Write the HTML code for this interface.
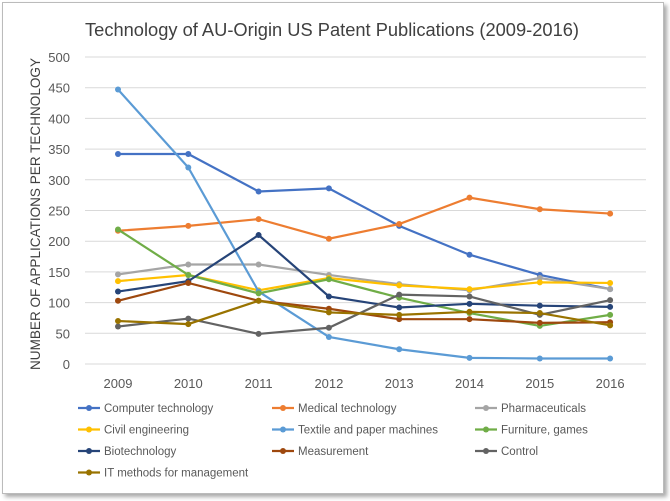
<!DOCTYPE html>
<html><head><meta charset="utf-8"><style>
body{margin:0;background:#fff;width:670px;height:501px;overflow:hidden;font-family:"Liberation Sans",sans-serif}
#frame{position:absolute;left:2px;top:2px;width:660px;height:490px;border:1px solid #bbb;box-shadow:3px 3px 4px #aaa;background:#fff}
</style></head><body>
<div id="frame"></div>
<svg id="c" width="670" height="501" style="position:absolute;left:0;top:0">
<text x="332" y="36" text-anchor="middle" font-size="18" textLength="494" lengthAdjust="spacingAndGlyphs" fill="#404040">Technology of AU-Origin US Patent Publications (2009-2016)</text>
<text transform="translate(40,214) rotate(-90)" text-anchor="middle" font-size="14" textLength="312" lengthAdjust="spacingAndGlyphs" fill="#404040">NUMBER OF APPLICATIONS PER TECHNOLOGY</text>
<g id="grid"></g><g id="series"></g><g id="legend"></g>
</svg>
<script>
const years=["2009","2010","2011","2012","2013","2014","2015","2016"];
const yTicks=[0,50,100,150,200,250,300,350,400,450,500];
const names=["Computer technology","Medical technology","Pharmaceuticals","Civil engineering","Textile and paper machines","Furniture, games","Biotechnology","Measurement","Control","IT methods for management"];
const colors=["#4472c4","#ed7d31","#a5a5a5","#ffc000","#5b9bd5","#70ad47","#264478","#9e480e","#636363","#997300"];
const computer=[342,342,281,286,225,178,145,122];
const medical=[217,225,236,204,228,271,252,245];
const pharma=[146,162,162,145,130,120,140,122];
const civil=[135,145,120,140,128,122,133,132];
const textile=[447,320,118,44,24,10,9,9];
const furniture=[219,145,115,138,108,83,62,80];
const biotech=[118,135,210,110,92,98,95,93];
const measurement=[103,132,103,90,73,73,67,68];
const control=[61,74,49,59,113,110,80,104];
const itmgmt=[70,65,103,84,80,85,83,63];
const series=[computer,medical,pharma,civil,textile,furniture,biotech,measurement,control,itmgmt];
const NS="http://www.w3.org/2000/svg";
const X=i=>118+i*70.3;
const Y=v=>364-v*(307/500);
function mk(t,a,p){const e=document.createElementNS(NS,t);for(const k in a)e.setAttribute(k,a[k]);p.appendChild(e);return e;}
const g=document.getElementById('grid');
yTicks.forEach(v=>{
 const l=mk('line',{x1:85,x2:646,y1:Y(v),y2:Y(v),stroke:'#d9d9d9','stroke-width':1},g);
 
 
 const t=mk('text',{x:70,y:Y(v)+5,'text-anchor':'end','font-size':13,fill:'#595959'},g);t.textContent=v;
 
 
});
years.forEach((y,i)=>{
 const t=mk('text',{x:X(i),y:388,'text-anchor':'middle','font-size':13,fill:'#595959'},g);t.textContent=y;
 
 
});
const s=document.getElementById('series');
series.forEach((d,k)=>{
 const gg=mk('g',{},s);
 
 
 mk('polyline',{points:d.map((v,i)=>X(i)+','+Y(v)).join(' '),fill:'none',stroke:colors[k],'stroke-width':2.2},gg);
 d.forEach((v,i)=>{const c=mk('circle',{cx:X(i),cy:Y(v),r:3,fill:colors[k]},gg);
  
  });
});
const lg=document.getElementById('legend');
names.forEach((n,k)=>{
 const col=k%3,row=Math.floor(k/3);
 const x=[78,272,475][col],y=408+row*21.5;
 const e=mk('g',{},lg);
 
 
 mk('line',{x1:x,x2:x+22,y1:y,y2:y,stroke:colors[k],'stroke-width':2.2},e);
 mk('circle',{cx:x+11,cy:y,r:3,fill:colors[k]},e);
 const t=mk('text',{x:x+26,y:y+4,'font-size':11.5,fill:'#595959'},e);t.textContent=n;
});
</script>
</body></html>
